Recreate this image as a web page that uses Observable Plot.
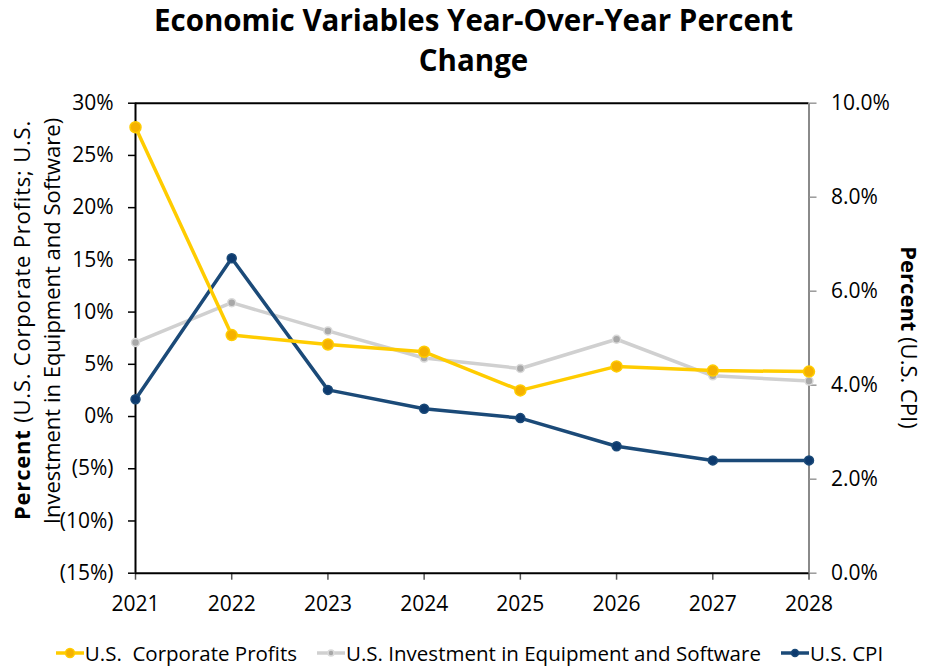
<!DOCTYPE html>
<html>
<head>
<meta charset="utf-8">
<script src="https://cdn.jsdelivr.net/npm/d3@7"></script>
<script src="https://cdn.jsdelivr.net/npm/@observablehq/plot@0.6"></script>
<style>
  html, body { margin: 0; padding: 0; background: #fff; }
  body { width: 925px; font-family: "Open Sans", "Noto Sans", sans-serif; color: #000; }
  #title { height: 88px; box-sizing: border-box; padding-top: 0px; text-align: center; font-weight: 700; font-size: 29.5px; line-height: 40px; padding-left: 22px; }
  #legend { height: 40px; display: flex; justify-content: center; align-items: center; gap: 20px; font-size: 20.5px; white-space: pre; padding-top: 10px; padding-left: 14px; box-sizing: border-box; }
  .item { display: flex; align-items: center; }
  .sw { width: 28px; height: 14px; margin-right: 1px; }
</style>
</head>
<body>
<div id="title">Economic Variables Year-Over-Year Percent<br>Change</div>
<div id="chart"></div>
<div id="legend"></div>
<script>
const years = [2021, 2022, 2023, 2024, 2025, 2026, 2027, 2028];
const profits = [27.7, 7.8, 6.9, 6.2, 2.5, 4.8, 4.4, 4.3];
const investment = [7.1, 10.9, 8.2, 5.6, 4.6, 7.4, 3.9, 3.4];
const cpi = [3.7, 6.7, 3.9, 3.5, 3.3, 2.7, 2.4, 2.4];
const leftTicks = [-15, -10, -5, 0, 5, 10, 15, 20, 25, 30];
const rightTicks = [0, 2, 4, 6, 8, 10];
const seriesNames = ["U.S.  Corporate Profits", "U.S. Investment in Equipment and Software", "U.S. CPI"];

const lineColors = ["#FFCC00", "#D0D0D0", "#1B4A78"];
const dotColors = ["#F5B100", "#A8A8A8", "#0D3A6E"];
const dotStroke = ["#FFCC00", "#DADADA", "#1B4A78"];
const dotR = [5.5, 4, 4.5];

// right axis (CPI, 0..10) mapped onto left scale (-15..30)
const toLeft = v => v * 4.5 - 15;
const fromLeft = v => (v + 15) / 4.5;

const rows = [];
years.forEach((yr, i) => {
  rows.push({series: 0, year: yr, v: profits[i]});
  rows.push({series: 1, year: yr, v: investment[i]});
  rows.push({series: 2, year: yr, v: toLeft(cpi[i])});
});

const fontSize = 21;
const marks = [
  Plot.ruleY([30], {stroke: "#000", strokeWidth: 2}),
  Plot.ruleX([2028], {stroke: "#8a8a8a", strokeWidth: 2}),
  Plot.axisY({anchor: "left", ticks: leftTicks, tickFormat: d => d < 0 ? `(${-d}%)` : `${d}%`,
    tickSize: 7, tickPadding: 15, fontSize, label: null, stroke: "#000", strokeWidth: 1.5}),
  Plot.axisY({anchor: "right", ticks: rightTicks.map(toLeft), tickFormat: d => fromLeft(d).toFixed(1) + "%",
    tickSize: 7, tickPadding: 15, fontSize, label: null, stroke: "#999", strokeWidth: 1.5}),
  Plot.axisX({ticks: years, tickFormat: d => String(d), tickSize: 7, tickPadding: 16, fontSize, label: null, stroke: "#555", strokeWidth: 1.5}),
  Plot.ruleX([2021], {stroke: "#000", strokeWidth: 2}),
  Plot.ruleY([-15], {stroke: "#000", strokeWidth: 2}),
];
[1, 2, 0].forEach(s => {
  const d = rows.filter(r => r.series === s);
  marks.push(Plot.line(d, {x: "year", y: "v", stroke: lineColors[s], strokeWidth: 3.5}));
  marks.push(Plot.dot(d, {x: "year", y: "v", r: dotR[s], fill: dotColors[s], stroke: dotStroke[s], strokeWidth: 1.5}));
});

const chart = Plot.plot({
  width: 925,
  height: 540,
  marginLeft: 135,
  marginRight: 116.5,
  marginTop: 14.7,
  marginBottom: 55.3,
  style: {fontFamily: '"Open Sans", "Noto Sans", sans-serif', fontSize: fontSize + "px", color: "#000", overflow: "visible"},
  x: {domain: [2021, 2028]},
  y: {domain: [-15, 30]},
  marks
});
document.getElementById("chart").appendChild(chart);

// axis titles
const svg = d3.select(chart);
svg.selectAll("g[aria-label='y-axis tick label'] text, g[aria-label='x-axis tick label'] text").attr("fill", "#000");
const tfs = 22;
const lt1 = svg.append("text").attr("transform", "translate(22,232) rotate(-90)").attr("text-anchor", "middle").attr("dy", "0.35em").style("font-size", tfs + "px").style("letter-spacing", "0.8px").attr("fill", "#000");
lt1.append("tspan").attr("font-weight", 700).text("Percent");
lt1.append("tspan").text(" (U.S. Corporate Profits; U.S.");
svg.append("text").attr("transform", "translate(52,233) rotate(-90)").attr("text-anchor", "middle").attr("dy", "0.35em").style("font-size", tfs + "px").attr("fill", "#000").text("Investment in Equipment and Software)");
const rt = svg.append("text").attr("transform", "translate(909,249.5) rotate(90)").attr("text-anchor", "middle").attr("dy", "0.35em").style("font-size", tfs + "px").attr("fill", "#000");
rt.append("tspan").attr("font-weight", 700).text("Percent");
rt.append("tspan").text(" (U.S. CPI)");

// legend
const legend = d3.select("#legend");
seriesNames.forEach((name, s) => {
  const it = legend.append("div").attr("class", "item");
  const sw = it.append("svg").attr("class", "sw").attr("width", 28).attr("height", 14);
  sw.append("line").attr("x1", 0).attr("x2", 28).attr("y1", 7).attr("y2", 7).attr("stroke", lineColors[s]).attr("stroke-width", 3.5);
  sw.append("circle").attr("cx", 14).attr("cy", 7).attr("r", dotR[s] - 1).attr("fill", dotColors[s]).attr("stroke", dotStroke[s]).attr("stroke-width", 1.5);
  it.append("span").text(name);
});
</script>
</body>
</html>
